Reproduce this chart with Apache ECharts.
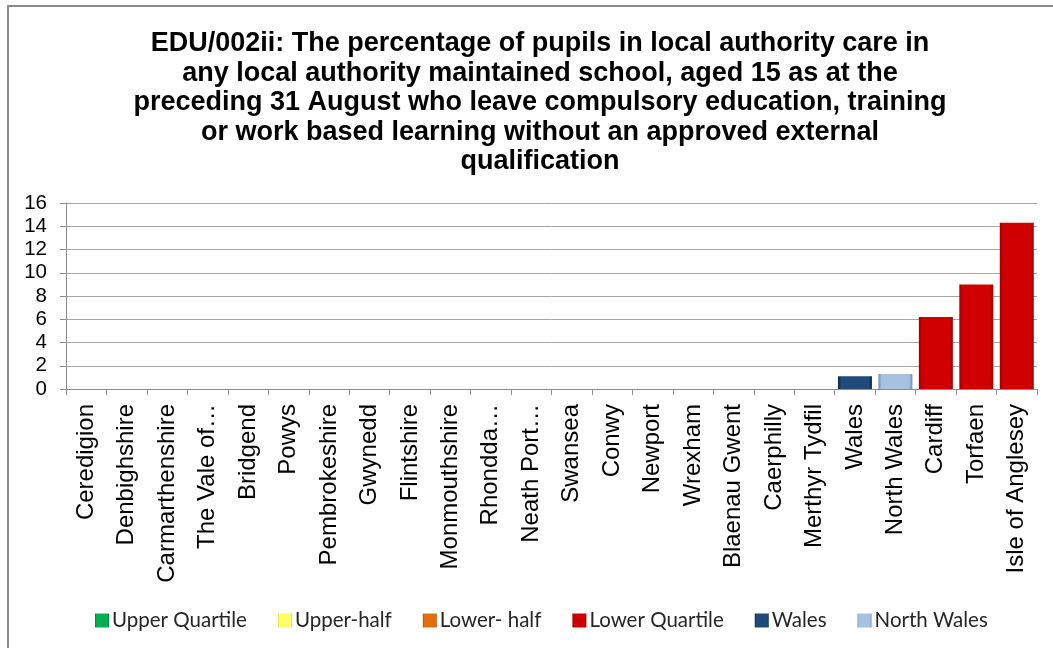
<!DOCTYPE html>
<html>
<head>
<meta charset="utf-8">
<title>EDU/002ii</title>
<script src="https://cdn.jsdelivr.net/npm/echarts@6/dist/echarts.min.js"></script>
<style>
  html, body { margin: 0; padding: 0; background: #ffffff; }
  #chart { width: 1053px; height: 648px; }
</style>
</head>
<body>
<div id="chart"></div>
<script>
// Local authorities, ordered as plotted
const categories = [
  'Ceredigion', 'Denbighshire', 'Carmarthenshire', 'The Vale of\u2026', 'Bridgend',
  'Powys', 'Pembrokeshire', 'Gwynedd', 'Flintshire', 'Monmouthshire',
  'Rhondda\u2026', 'Neath Port\u2026', 'Swansea', 'Conwy', 'Newport',
  'Wrexham', 'Blaenau Gwent', 'Caerphilly', 'Merthyr Tydfil', 'Wales',
  'North Wales', 'Cardiff', 'Torfaen', 'Isle of Anglesey'
];

// Percentage for each category
const values = [
  0, 0, 0, 0, 0,
  0, 0, 0, 0, 0,
  0, 0, 0, 0, 0,
  0, 0, 0, 0, 1.1,
  1.3, 6.2, 9.0, 14.3
];

// Band each category falls in
const groups = [
  'Upper Quartile', 'Upper Quartile', 'Upper Quartile', 'Upper Quartile', 'Upper Quartile',
  'Upper Quartile', 'Upper Quartile', 'Upper Quartile', 'Upper Quartile', 'Upper Quartile',
  'Upper Quartile', 'Upper Quartile', 'Upper Quartile', 'Upper Quartile', 'Upper Quartile',
  'Upper Quartile', 'Upper Quartile', 'Upper Quartile', 'Upper Quartile', 'Wales',
  'North Wales', 'Lower Quartile', 'Lower Quartile', 'Lower Quartile'
];

const legendNames = ['Upper Quartile', 'Upper-half', 'Lower- half', 'Lower Quartile', 'Wales', 'North Wales'];
const groupKeys   = ['Upper Quartile', 'Upper-half', 'Lower-half', 'Lower Quartile', 'Wales', 'North Wales'];

const yTicks = [0, 2, 4, 6, 8, 10, 12, 14, 16];

const titleText = [
  'EDU/002ii: The percentage of pupils in local authority care in',
  'any local authority maintained school, aged 15 as at the',
  'preceding 31 August who leave compulsory education, training',
  'or work based learning without an approved external',
  'qualification'
].join('\n');

// Bevel-like fills: dark edges, lighter face
function bevel(edge, face) {
  return new echarts.graphic.LinearGradient(0, 0, 1, 0, [
    { offset: 0, color: edge },
    { offset: 0.1, color: face },
    { offset: 0.9, color: face },
    { offset: 1, color: edge }
  ]);
}
const palette = [
  bevel('#007a38', '#00b050'),
  bevel('#d8d840', '#ffff66'),
  bevel('#b04f00', '#e46c0a'),
  bevel('#9a0000', '#d00000'),
  bevel('#102846', '#1f4a7a'),
  bevel('#6f8fb8', '#a7c1e2')
];

const chart = echarts.init(document.getElementById('chart'), null, { renderer: 'canvas' });

const series = groupKeys.map((key, i) => ({
  name: legendNames[i],
  type: 'bar',
  stack: 'all',
  barCategoryGap: '16%',
  data: values.map((v, j) => (groups[j] === key ? v : '-')),
  itemStyle: { color: palette[i], borderWidth: 0 },
  emphasis: { disabled: true }
}));

chart.setOption({
  animation: false,
  backgroundColor: '#ffffff',
  title: {
    text: titleText,
    left: 535,
    textAlign: 'center',
    top: 24,
    textStyle: {
      fontFamily: 'Liberation Sans, Arial, sans-serif',
      fontWeight: 'bold',
      fontSize: 27,
      lineHeight: 29.5,
      color: '#000000'
    }
  },
  graphic: [{
    type: 'rect',
    shape: { x: 8, y: 6, width: 1200, height: 800 },
    style: { fill: 'none', stroke: '#8a8a8a', lineWidth: 2 },
    silent: true
  }],
  legend: {
    data: legendNames,
    left: 90,
    top: 605,
    icon: 'rect',
    itemWidth: 14,
    itemHeight: 14,
    itemGap: 31,
    textStyle: {
      fontFamily: 'Lato, Liberation Sans, sans-serif',
      fontSize: 20.5,
      color: '#262626',
      padding: [0, 0, 0, -2]
    }
  },
  grid: { left: 66, right: 16, top: 203, bottom: 259, containLabel: false },
  xAxis: {
    type: 'category',
    data: categories,
    boundaryGap: true,
    axisLine: { lineStyle: { color: '#8c8c8c', width: 1 } },
    axisTick: { show: true, alignWithLabel: false, length: 6, lineStyle: { color: '#8c8c8c' } },
    axisLabel: {
      interval: 0,
      rotate: 90,
      margin: 15,
      fontFamily: 'Liberation Sans, Arial, sans-serif',
      fontSize: 24,
      color: '#000000'
    }
  },
  yAxis: {
    type: 'value',
    min: yTicks[0],
    max: yTicks[yTicks.length - 1],
    interval: 2,
    axisLine: { show: true, lineStyle: { color: '#8c8c8c', width: 1 } },
    axisTick: { show: true, length: 6, lineStyle: { color: '#8c8c8c' } },
    splitLine: { lineStyle: { color: '#a6a6a6', width: 1 } },
    axisLabel: {
      margin: 19,
      fontFamily: 'Liberation Sans, Arial, sans-serif',
      fontSize: 20.5,
      color: '#000000'
    }
  },
  series: series
});
</script>
</body>
</html>
